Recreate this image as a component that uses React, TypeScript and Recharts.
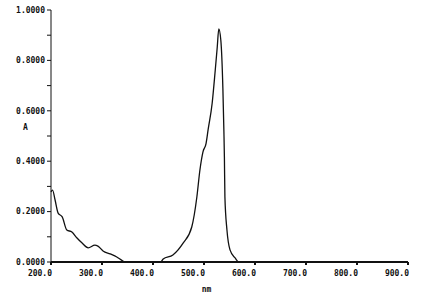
import { LineChart, Line, XAxis, YAxis } from 'recharts'

// wavelength (nm) and absorbance
const wavelengths = [
  200, 203, 208, 214, 222, 231, 241, 251, 261, 273, 286, 292, 302, 316, 329, 341, 346,
  400, 415, 420, 439, 459, 476, 486, 492, 498, 504, 508, 516, 522, 526, 529,
  533, 537, 539, 540, 541, 545, 551, 561, 568, 600, 700, 800, 900,
]
const absorbance = [
  0.278, 0.285, 0.246, 0.194, 0.179, 0.127, 0.119, 0.095, 0.075, 0.056, 0.067, 0.063, 0.044, 0.032, 0.02, 0.004, 0,
  0, 0, 0.012, 0.028, 0.075, 0.139, 0.258, 0.365, 0.437, 0.47, 0.524, 0.63, 0.76, 0.853, 0.925,
  0.88, 0.69, 0.52, 0.417, 0.258, 0.127, 0.048, 0.016, 0, 0, 0, 0, 0,
]

const xTicks = [200, 300, 400, 500, 600, 700, 800, 900]
const yTicks = [0, 0.1, 0.2, 0.3, 0.4, 0.5, 0.6, 0.7, 0.8, 0.9, 1.0]

const spectrum = wavelengths.map((nm, i) => ({ nm, a: absorbance[i] }))

const FONT = '"DejaVu Sans Mono", monospace'

function XTick({ x, y, payload }: { x?: number; y?: number; payload?: { value: number } }) {
  return (
    <text x={(x ?? 0) + 1} y={(y ?? 0) + 9} textAnchor="end" fontFamily={FONT} fontSize={8} fontWeight="bold" fill="#111">
      {payload ? payload.value.toFixed(1) : ''}
    </text>
  )
}

export default function App() {
  return (
    <div style={{ position: 'absolute', left: 0, top: 0, width: 424, height: 308, background: '#fff' }}>
      <LineChart width={424} height={308} data={spectrum} margin={{ top: 10, right: 16, bottom: 16, left: 0 }}>
        <XAxis
          dataKey="nm"
          type="number"
          domain={[200, 900]}
          ticks={xTicks}
          tick={<XTick />}
          tickSize={3}
          height={30}
          stroke="#111"
          strokeWidth={2}
          label={{ value: 'nm', position: 'insideBottom', offset: 0, dx: -23, fontFamily: FONT, fontSize: 8, fontWeight: 'bold', fill: '#111' }}
        />
        <YAxis
          type="number"
          domain={[0, 1]}
          ticks={yTicks}
          interval={0}
          width={51}
          tickSize={4}
          stroke="#111"
          tick={{ fontFamily: FONT, fontSize: 8, fontWeight: 'bold', fill: '#111' }}
          tickFormatter={(v: number) => (Math.round(v * 10) % 2 === 0 ? v.toFixed(4) : '')}
          label={{ value: 'A', position: 'insideLeft', offset: 0, dx: 23, dy: -9, fontFamily: FONT, fontSize: 8, fontWeight: 'bold', fill: '#111' }}
        />
        <Line
          type="monotone"
          dataKey="a"
          stroke="#111"
          strokeWidth={1.3}
          dot={false}
          isAnimationActive={false}
        />
      </LineChart>
    </div>
  )
}
